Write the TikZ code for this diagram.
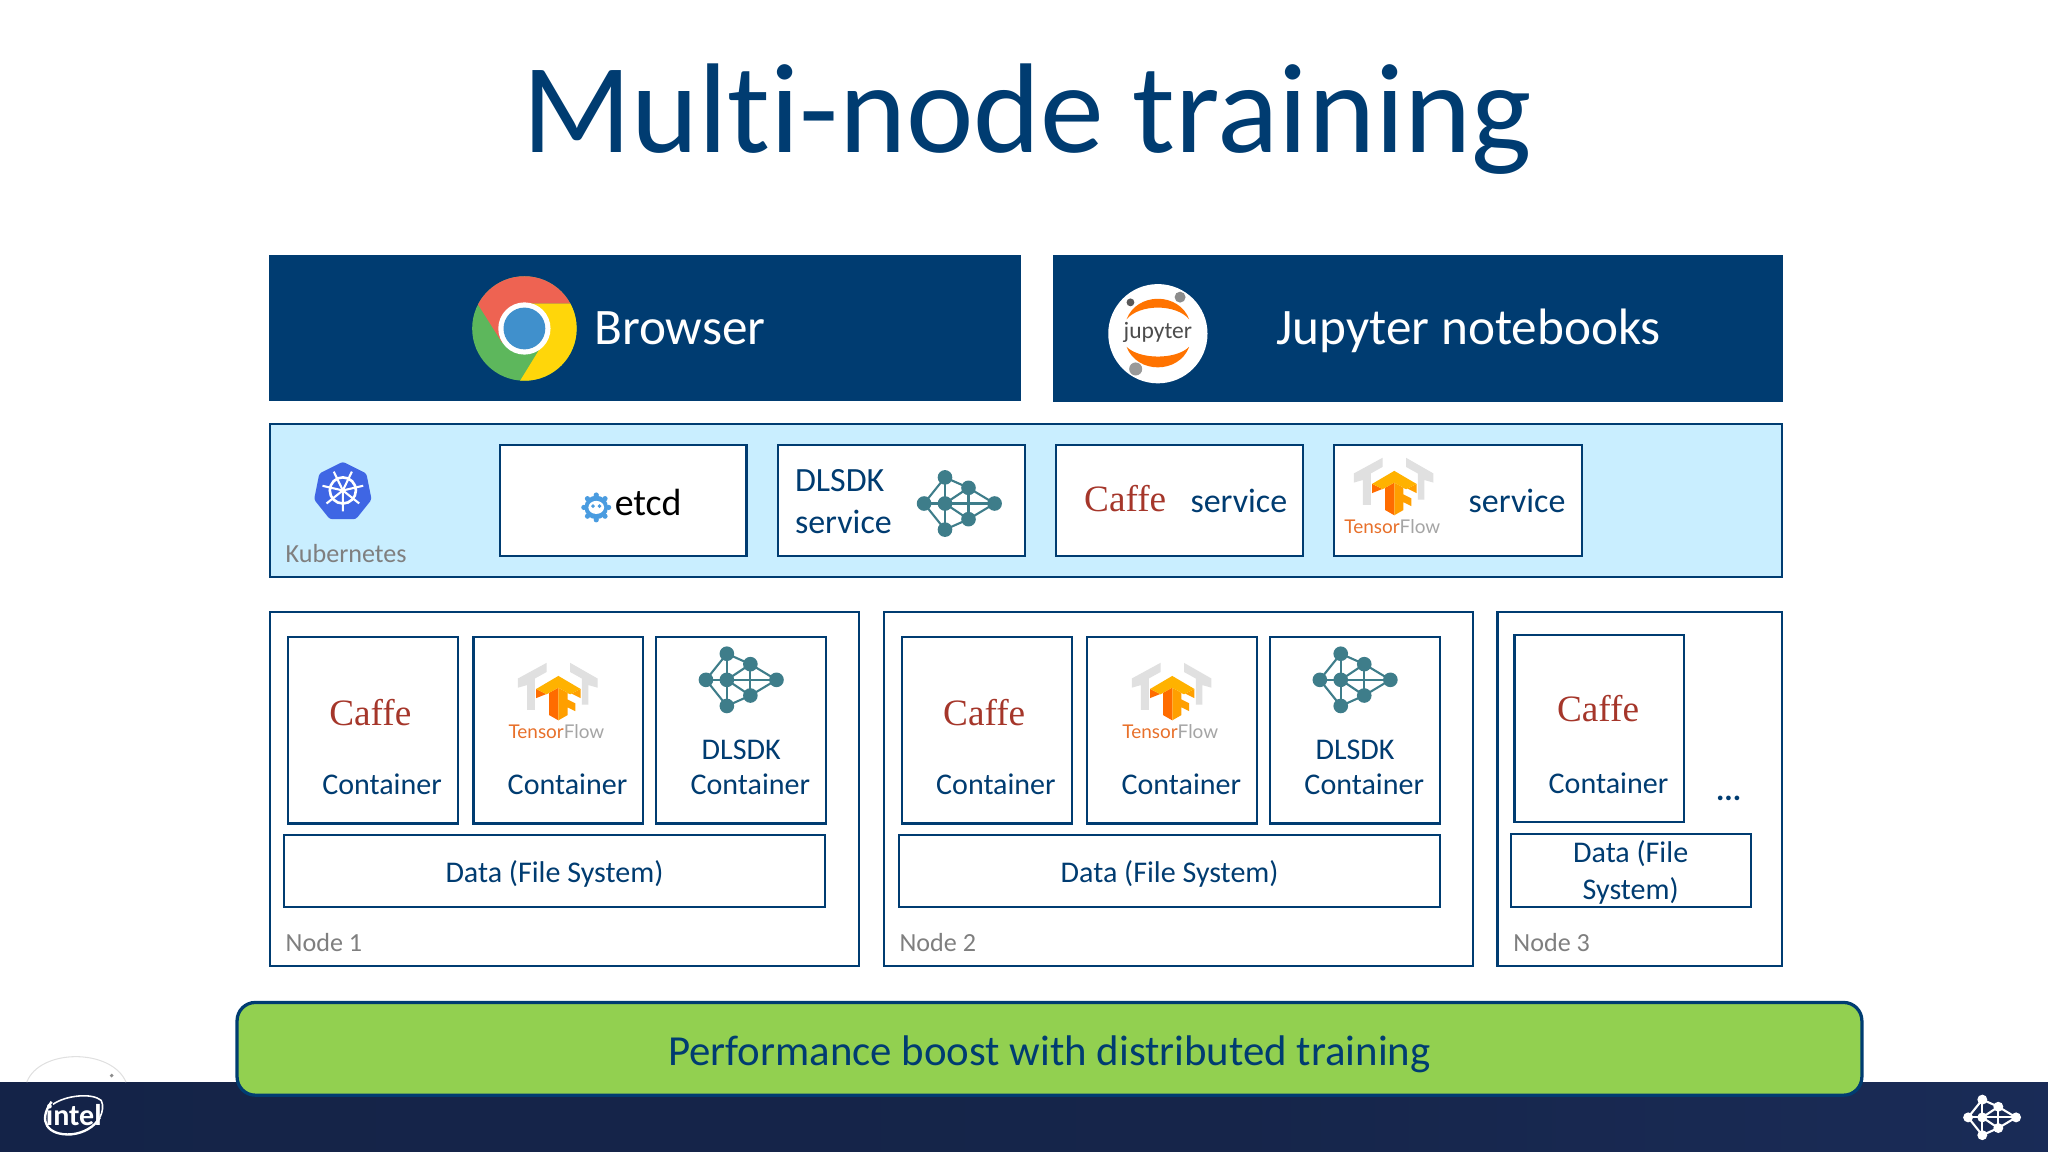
\documentclass[tikz,border=0pt]{standalone}
\usepackage{fontspec}
\setmainfont[Ligatures=NoCommon]{Carlito}
\newfontfamily\caffefont{Liberation Serif}
\newfontfamily\tffont{Lato}
\usetikzlibrary{positioning}
\usetikzlibrary{calc}

\definecolor{navy}{HTML}{003C71}
\definecolor{skyfill}{HTML}{C9EEFF}
\definecolor{boostgreen}{HTML}{92D050}
\definecolor{netteal}{HTML}{3E7D8A}
\definecolor{caffered}{HTML}{A5362A}
\definecolor{labelgrey}{HTML}{7F7F7F}
\definecolor{tforange}{HTML}{E8702A}
\definecolor{kubeblue}{HTML}{3F66E4}
\definecolor{etcdblue}{HTML}{4A9CE0}
\definecolor{chromered}{HTML}{EE6352}
\definecolor{chromegreen}{HTML}{5DB75C}
\definecolor{chromeyellow}{HTML}{FFD60A}
\definecolor{chromeblue}{HTML}{4090CC}

\pgfdeclarehorizontalshading{footerband}{100bp}{
  rgb(0bp)=(0.075,0.133,0.275);
  rgb(55bp)=(0.085,0.145,0.290);
  rgb(66bp)=(0.095,0.160,0.320);
  rgb(75bp)=(0.100,0.170,0.340);
  rgb(84bp)=(0.130,0.225,0.420);
  rgb(89bp)=(0.115,0.195,0.370);
  rgb(96bp)=(0.110,0.190,0.380);
  rgb(100bp)=(0.170,0.290,0.520)}

% network logo: centre x, centre y, scale, colour
\newcommand{\netlogo}[4]{
  \begin{scope}[shift={(#1,#2)}, scale=#3]
    \coordinate (nt) at (-10,-20);
    \coordinate (nl) at (-26,0);
    \coordinate (nm) at (-10,0);
    \coordinate (nu) at (8,-12);
    \coordinate (nd) at (8,12);
    \coordinate (nr) at (28,0);
    \coordinate (nb) at (-10,20);
    \foreach \p/\q in {nt/nl, nt/nm, nt/nu, nl/nm, nl/nb, nm/nb, nm/nr, nm/nu, nm/nd, nu/nr, nd/nr, nu/nd, nb/nd}
      \draw [#4, line width=1.6pt] (\p) -- (\q);
    \foreach \p in {nt,nl,nm,nu,nd,nr,nb}
      \fill [#4] (\p) circle [radius=5.6];
  \end{scope}
}

% tensorflow logo: centre x, centre y
\newcommand{\tflogo}[2]{
  \begin{scope}[shift={(#1,#2)}]
    \fill [black!12] (-31,-11) -- (-9,-23) -- (-9,-16) -- (-18,-11) -- (-18,13) -- (-24,13) -- (-24,-6) -- (-31,-4) -- cycle;
    \fill [black!12] (30,-11) -- (9,-23) -- (9,-16) -- (18,-11) -- (18,9) -- (23,9) -- (23,-6) -- (30,-4) -- cycle;
    \fill [orange!85!red] (-17,-3) -- (-17,4) -- (-7,0) -- (-7,17) -- (0,21) -- (0,-4) -- (-9,1) -- cycle;
    \fill [orange!75!yellow] (0,-4) -- (9,1) -- (17,-3) -- (17,4) -- (7,-1) -- (7,5) -- (13,8) -- (13,14) -- (7,11) -- (7,17) -- (0,21) -- cycle;
    \fill [orange!60!yellow] (-17,-3) -- (0,-13) -- (17,-3) -- (9,1) -- (0,-4) -- (-9,1) -- cycle;
    \node (tfname) [anchor=base] at (-1.5,35) {\tffont\fontsize{14.5}{18}\selectfont\textcolor{tforange}{Tensor}\textcolor{labelgrey!70}{Flow}};
  \end{scope}
}

\tikzset{
  bar/.style={fill=navy, draw=navy, minimum height=111pt, anchor=north west, outer sep=0pt},
  frame/.style={draw=navy, line width=1.6pt, fill=white, anchor=north west, inner sep=0pt, outer sep=0pt},
  svcbox/.style={frame, minimum width=189pt, minimum height=85pt},
  conbox/.style={frame, minimum width=130pt, minimum height=143pt},
  databox/.style={frame, minimum height=55pt},
  nodebox/.style={frame, minimum height=271pt},
  word/.style={anchor=base, text=navy, font=\fontsize{23}{28}\selectfont, inner sep=0pt},
  caffe/.style={anchor=base, text=caffered, font=\caffefont\fontsize{28.5}{34}\selectfont, inner sep=0pt},
  greylabel/.style={anchor=base west, text=labelgrey, font=\fontsize{20}{24}\selectfont, inner sep=0pt},
  barword/.style={anchor=base, text=white, font=\fontsize{39.2}{44}\selectfont, inner sep=0pt}
}

\begin{document}
\begin{tikzpicture}[x=1pt, y=-1pt]
    \useasboundingbox (-0.5,-0.5) rectangle (1567.5,881.5);

    \node (title) [anchor=base, text=navy, font=\fontsize{97.8}{100}\selectfont, inner sep=0pt] at (786,116) {Multi-node training};

    % footer band
    \fill [shading=footerband] (-0.5,828) rectangle (1567.5,881.5);
    \draw [black!12, line width=0.8pt] (20,828) .. controls (30,802) and (85,802) .. (96,828);
    \fill [black!45] (85,823) circle [radius=1.5];
    \node (intel) [text=white, font=\fontsize{23}{26}\bfseries\selectfont, inner sep=0pt] at (56,853) {intel};
    \draw [white, line width=1.8pt] (39,843) .. controls (28,858) and (36,869) .. (54,868) .. controls (64,867) and (72,862) .. (76,855);
    \draw [white, line width=1.2pt] (40,845) .. controls (50,838) and (70,836) .. (77,842) .. controls (79,846) and (78,851) .. (76,855);
    \netlogo{1524}{855}{0.68}{white}

    % top bars
    \node (browserbar) [bar, minimum width=574.5pt] at (206,195) {};
    \node (jupyterbar) [bar, minimum width=558pt, minimum height=112pt] at (806,195) {};
    \node (browser) [barword] at (520,263) {Browser};
    \node (notebooks) [barword] at (1124,263) {Jupyter notebooks};

    % chrome logo
    \begin{scope}
        \clip (401,251) circle [radius=40];
        \fill [chromegreen] (355,205) rectangle (447,297);
        \fill [chromered] (401,232) -- (447,232) -- (447,205) -- (355,205) -- (355,216) -- (384,262) -- cycle;
        \fill [chromeyellow] (401,232) -- (447,232) -- (447,297) -- (394,297) -- (418,258) -- cycle;
    \end{scope}
    \fill [white] (401,251) circle [radius=20];
    \fill [chromeblue] (401,251) circle [radius=16];

    % jupyter logo
    \fill [white] (886,255) circle [radius=38];
    \fill [orange!90!red] (862,244) .. controls (870,223) and (902,223) .. (910,244) .. controls (900,232) and (872,232) .. (862,244) -- cycle;
    \fill [orange!90!red] (862,265) .. controls (870,286) and (902,286) .. (910,265) .. controls (900,275) and (872,275) .. (862,265) -- cycle;
    \fill [black!45] (903,227) circle [radius=4.2];
    \fill [black!65] (865,231) circle [radius=3];
    \fill [black!40] (869,282) circle [radius=5];
    \node (jupytername) [text=black!70, font=\fontsize{18}{20}\selectfont, inner sep=0pt] at (886,254) {jupyter};

    % kubernetes row
    \node (kubebar) [frame, fill=skyfill, minimum width=1158pt, minimum height=117pt] at (206,324) {};
    \fill [kubeblue, rounded corners=2pt] (262,353) -- (280,362) -- (284,382) -- (272,397) -- (252,397) -- (240,382) -- (244,362) -- cycle;
    \draw [white, line width=2pt] (262,375) circle [radius=10];
    \foreach \a in {90,141.4,...,450}
        \draw [white, line width=1.6pt] (262,375) -- ++(\a:16);
    \node (kubelabel) [greylabel] at (218,430) {Kubernetes};

    \node (etcdbox) [svcbox] at (382,340) {};
    \node (dlsdkbox) [svcbox] at (595,340) {};
    \node (caffebox) [svcbox] at (808,340) {};
    \node (tfbox) [svcbox, minimum width=190pt] at (1021,340) {};

    % etcd gear
    \foreach \a in {0,45,...,315}
        \fill [etcdblue] (456,388) ++(\a:9.5) circle [radius=2];
    \fill [etcdblue] (456,388) circle [radius=9];
    \fill [white] (456,388) ellipse [x radius=6, y radius=5];
    \fill [etcdblue] (453.5,387) circle [radius=1.5] (458.5,387) circle [radius=1.5];
    \node (etcd) [anchor=base west, font=\fontsize{29}{34}\selectfont, inner sep=0pt] at (470,394) {etcd};

    \node (dlsdkname) [word, anchor=base west, font=\fontsize{26}{30}\selectfont] at (608,376) {DLSDK};
    \node (dlsdksvc) [word, anchor=base west, font=\fontsize{26}{30}\selectfont] at (608,408) {service};
    \netlogo{733}{385}{1}{netteal}

    \node (caffesvclogo) [caffe] at (861,391) {Caffe};
    \node (caffesvc) [word, font=\fontsize{26}{30}\selectfont] at (948,392) {service};
    \tflogo{1067}{373}
    \node (tfsvc) [word, font=\fontsize{26}{30}\selectfont] at (1161,392) {service};

    % cluster nodes
    \node (node1) [nodebox, minimum width=451pt] at (206,468) {};
    \node (node2) [nodebox, minimum width=451pt] at (676,468) {};
    \node (node3) [nodebox, minimum width=218pt] at (1146,468) {};
    \node (node1label) [greylabel] at (218,728) {Node 1};
    \node (node2label) [greylabel] at (688,728) {Node 2};
    \node (node3label) [greylabel] at (1158,728) {Node 3};

    \foreach \dx/\n in {0/a,470/b} {
        \node (caffecon\n) [conbox] at (220+\dx,487) {};
        \node (tfcon\n) [conbox] at (362+\dx,487) {};
        \node (netcon\n) [conbox] at (502+\dx,487) {};
        \node (caffelogo\n) [caffe] at (283+\dx,555) {Caffe};
        \node (caffeword\n) [word] at (292+\dx,608) {Container};
        \node (tfword\n) [word] at (434+\dx,608) {Container};
        \node (dlsdkword\n) [word] at (567+\dx,581) {DLSDK};
        \node (netword\n) [word] at (574+\dx,608) {Container};
        \tflogo{427+\dx}{530}
        \netlogo{566+\dx}{520}{1}{netteal}
    }
    \node (data1) [databox, minimum width=414pt] at (217,639) {};
    \node (data2) [databox, minimum width=414pt] at (688,639) {};
    \node (dataword1) [word] at (424,675) {Data (File System)};
    \node (dataword2) [word] at (895,675) {Data (File System)};

    \node (caffeconc) [conbox] at (1159,486) {};
    \node (caffelogoc) [caffe] at (1223,552) {Caffe};
    \node (caffewordc) [word] at (1231,607) {Container};
    \node (moredots) [word, font=\fontsize{24}{28}\bfseries\selectfont] at (1323,612) {...};
    \node (data3) [databox, minimum width=184pt, minimum height=56pt] at (1156,638) {};
    \node (dataword3a) [word] at (1248,660) {Data (File};
    \node (dataword3b) [word] at (1248,688) {System)};

    % bottom banner
    \node (boost) [draw=navy, line width=2.5pt, fill=boostgreen, rounded corners=14pt, minimum width=1244pt, minimum height=71pt, anchor=north west, outer sep=0pt] at (181,767) {};
    \node (boostword) [word, font=\fontsize{32.8}{38}\selectfont] at (803,815) {Performance boost with distributed training};
\end{tikzpicture}
\end{document}
